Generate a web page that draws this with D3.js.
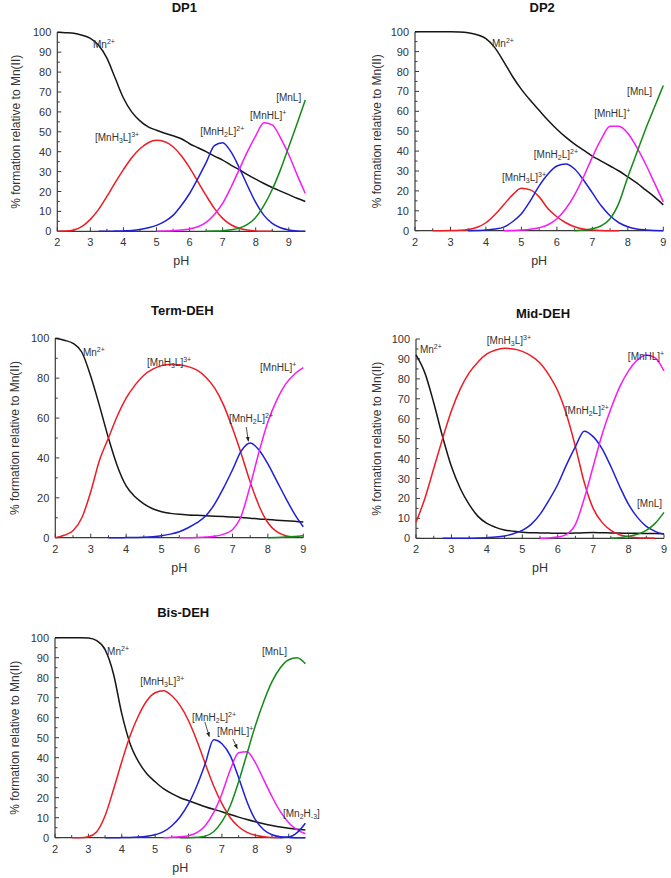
<!DOCTYPE html>
<html><head><meta charset="utf-8">
<script src="https://cdn.jsdelivr.net/npm/d3@7"></script>
<style>
body{margin:0;background:#fff;}
svg{display:block;}
text{font-family:"Liberation Sans",Arial,sans-serif;}
</style></head>
<body><svg id="c" width="671" height="878"></svg>
<script>
// ---------------- DATA ----------------
const grid95 = [2,2.25,2.5,2.75,3,3.25,3.5,3.75,4,4.25,4.5,4.75,5,5.25,5.5,5.75,6,6.25,6.5,6.75,7,7.25,7.5,7.75,8,8.25,8.5,8.75,9,9.25,9.5];
const grid9  = [2,2.25,2.5,2.75,3,3.25,3.5,3.75,4,4.25,4.5,4.75,5,5.25,5.5,5.75,6,6.25,6.5,6.75,7,7.25,7.5,7.75,8,8.25,8.5,8.75,9];
const _ = null;

// DP1 (pH 2 - 9.5)
const dp1_Mn   = [100,99.8,99.5,98.5,97,93.5,87,77,67,60,55.5,52.5,50.8,49.3,48,46.5,44,42,40,37.8,35.8,33.3,31,28.5,26.2,24,22,20.2,18.4,16.6,15];
const dp1_H3L  = [0,0.1,0.7,2.5,6,11,17.5,24.5,31,37,41.5,44.5,45.7,45,42.5,38,32,25,18,11.5,6.5,3.3,1.5,0.6,0.2,0.05,0,_,_,_,_];
const dp1_H2L  = [_,_,_,_,_,0,0,0.1,0.2,0.4,0.9,1.8,3,5,8,13,19,26.5,34.5,43,44.5,40,32,23,14.5,8,4,1.8,0.7,0.2,0];
const dp1_HL   = [_,_,_,_,_,_,_,_,_,_,_,_,0,0.1,0.3,0.6,1.2,2.3,4.5,8.5,14,22,31,40,48,54.5,53.5,47,38.5,28.5,19];
const dp1_L    = [_,_,_,_,_,_,_,_,_,_,_,_,_,_,_,_,_,_,0,0.1,0.3,0.8,1.6,3.5,7,13,21,31,42.5,54,66];

// DP2 (pH 2 - 9)
const dp2_Mn   = [100,100,100,100,100,99.9,99.5,98.5,96.5,92,85,77.5,71,65.5,60.5,55.5,51,47,43.5,40.5,37.5,35,32.5,30,27,24,20.5,17,13];
const dp2_H3L  = [_,_,0,0,0.05,0.2,0.6,1.7,4,8,13,18,21.3,20.5,17,11,7,4,2,0.9,0.4,0.1,0,0,_,_,_,_,_];
const dp2_H2L  = [_,_,_,_,_,_,0,0.1,0.3,0.8,1.8,4.5,8.5,15,22.5,28.5,32.5,33.5,31,25.5,19,12.5,7.5,4,2,0.9,0.4,0.1,0];
const dp2_HL   = [_,_,_,_,_,_,_,_,_,_,0,0.1,0.3,0.7,1.5,3,6,11,18,27,37,46,52.5,52.5,49,42,33.5,24,14.5];
const dp2_L    = [_,_,_,_,_,_,_,_,_,_,_,_,_,_,_,_,_,_,0,0.3,1,2.5,6,14,27,39,51,62,73];

// Term-DEH (pH 2 - 9)
const term_Mn  = [100,99,97.5,93,81,66,50,36,26,20.5,17,14.5,13,12.2,11.7,11.4,11.2,11,10.8,10.6,10.4,10.1,9.8,9.4,9.1,8.8,8.5,8.2,7.9];
const term_H3L = [0,1.2,3.5,10,23,39,50,61,70,76.5,81.5,84.5,86.3,86.9,86.7,85.8,84,80.5,75,66.5,55,42,28,16,7.5,3,1,0.3,_];
const term_H2L = [_,_,_,_,_,_,0,0,0.05,0.1,0.2,0.5,1,1.8,3,5,7.5,11,17,25,34,43.5,47.5,44,37,28.5,20,12,5.5];
const term_HL  = [_,_,_,_,_,_,_,_,_,_,_,_,_,_,0,0,0.1,0.3,0.7,1.8,4,11,26,43,58,69,77,82,85.3];
const term_L   = [_,_,_,_,_,_,_,_,_,_,_,_,_,_,_,_,_,_,_,_,_,_,_,_,0,0.1,0.3,0.6,1];

// Mid-DEH (pH 2 - 9)
const mid_Mn   = [92,83,68,51,36,25,17,11,7.5,5.5,4.2,3.5,3,2.8,2.7,2.6,2.5,2.5,2.6,2.8,2.9,2.8,2.7,2.6,2.5,2.5,2.4,2.4,2.3];
const mid_H3L  = [8,20,35,50,64,75,83,88.5,92.5,94.5,95.3,95,93.8,91.5,88,82,74,62,46,28,15,8,4,1.8,0.8,0.3,0.1,0,_];
const mid_H2L  = [_,_,_,0,0,0,0.05,0.1,0.3,0.6,1.2,2.3,4,7,12,19,27,37,46,53.7,51,45,36,26,17,10.5,6,3.5,2];
const mid_HL   = [_,_,_,_,_,_,_,_,_,_,_,_,_,_,0,0.2,0.6,2,7,20,36,52,65,76,84,89.5,92,90.5,84];
const mid_L    = [_,_,_,_,_,_,_,_,_,_,_,_,_,_,_,_,_,_,_,_,_,_,0,0.3,1,2,4,7.5,13];

// Bis-DEH (pH 2 - 9.5)
const bis_Mn   = [100,100,100,100,99.8,98.5,94,82,62,47,38,32,28,24.5,22,20,18.5,17,15.5,14.2,13,11.6,10.3,9.1,8,7,6.1,5.3,4.7,4.2,3.8];
const bis_H3L  = [_,_,0,0,0.5,3,11,24,38,51,61,68.5,72.5,73.5,71,66,58.5,48.5,37,26,17,10,5.5,2.7,1.2,0.5,0.1,0,_,_,_];
const bis_H2L  = [_,_,_,_,_,_,0,0,0.05,0.1,0.3,0.7,1.5,3,6,10.5,17,26,37,49,47,41,30,18,9,4,1.5,0.5,0.2,0,0];
const bis_HL   = [_,_,_,_,_,_,_,_,_,_,_,_,_,0,0.2,0.5,1,2.5,6,12.5,22,34,42.5,43,37.5,29,20.5,13,7.5,4,2];
const bis_L    = [_,_,_,_,_,_,_,_,_,_,_,_,_,_,_,0,0,0.2,0.8,3,8,16,28,42,56,68,78,85,89,90,87];
const bis_Mn2  = [_,_,_,_,_,_,_,_,_,_,_,_,_,_,_,_,_,_,_,_,_,_,_,_,_,_,_,0,0.3,2.5,7.2];

const titles = ["DP1","DP2","Term-DEH","Mid-DEH","Bis-DEH"];
const xTicks = [2,3,4,5,6,7,8,9];

// ---------------- LAYOUT ----------------
const colors = {Mn:"#161616", H3L:"#ee1c24", H2L:"#1f1fd6", HL:"#f51cf5", L:"#138a18", Mn2:"#1f1fd6"};
const panels = [
  {title:titles[0], grid:grid95, xmax:9.5, xr:[57.3,305.3], yr:[231.3,32.3], ystep:10, tY:12, pHy:265, ylx:16,
   series:{Mn:dp1_Mn,H3L:dp1_H3L,H2L:dp1_H2L,HL:dp1_HL,L:dp1_L},
   labels:[["Mn",3.08,92],["H3L",3.14,45.4],["H2L",6.32,48.4],["HL",7.83,56.4],["L",8.62,65.4]], arrows:[]},
  {title:titles[1], grid:grid9, xmax:9, xr:[415,663.3], yr:[230.7,31.7], ystep:10, tY:12, pHy:265, ylx:377,
   series:{Mn:dp2_Mn,H3L:dp2_H3L,H2L:dp2_H2L,HL:dp2_HL,L:dp2_L},
   labels:[["Mn",4.17,92.3],["L",7.98,68.2],["HL",7.05,57.1],["H2L",5.35,36.5],["H3L",4.45,25]], arrows:[]},
  {title:titles[2], grid:grid9, xmax:9, xr:[55.3,303.3], yr:[537.7,338.3], ystep:20, tY:315, pHy:572, ylx:15,
   series:{Mn:term_Mn,H3L:term_H3L,H2L:term_H2L,HL:term_HL,L:term_L},
   labels:[["Mn",2.78,91],["H3L",4.59,86.1],["HL",7.78,83.6],["H2L",6.9,58]], arrows:[[7.39,55.5,7.45,48.4]]},
  {title:titles[3], grid:grid9, xmax:9, xr:[416,664], yr:[538.3,339], ystep:10, tY:318, pHy:572, ylx:377,
   series:{Mn:mid_Mn,H3L:mid_H3L,H2L:mid_H2L,HL:mid_HL,L:mid_L},
   labels:[["Mn",2.11,93],["H3L",4.0,97.5],["HL",7.98,89.6],["H2L",6.2,62.4],["L",8.24,15.7]], arrows:[]},
  {title:titles[4], grid:grid95, xmax:9.5, xr:[55,305.4], yr:[837.7,637.7], ystep:10, tY:617, pHy:872, ylx:15,
   series:{Mn:bis_Mn,H3L:bis_H3L,H2L:bis_H2L,HL:bis_HL,L:bis_L,Mn2:bis_Mn2},
   labels:[["Mn",3.56,91.3],["H3L",4.55,76.3],["L",8.2,91.3],["H2L",6.1,58.3],["HL",6.85,51.3],["Mn2",8.83,10.3]],
   arrows:[[6.49,57.8,6.62,50.6],[7.33,49.3,7.46,44.6]]}
];

const svg = d3.select("#c");
const defs = svg.append("defs");
defs.append("marker").attr("id","ah").attr("viewBox","0 0 10 10").attr("refX",9).attr("refY",5)
  .attr("markerWidth",6).attr("markerHeight",6).attr("orient","auto")
  .append("path").attr("d","M0,1 L10,5 L0,9 z").attr("fill","#222");

function addLabel(g, kind, x, y){
  const t = g.append("text").attr("x",x).attr("y",y).attr("font-size",10).attr("fill","#333");
  const sub = (s)=>{ t.append("tspan").attr("font-size",7).attr("dy",2).text(s); };
  const sup = (s,dy)=>{ t.append("tspan").attr("font-size",7).attr("dy",dy).text(s); };
  const norm = (s,dy)=>{ t.append("tspan").attr("dy",dy||0).text(s); };
  if(kind==="Mn"){ norm("Mn"); sup("2+",-4); }
  else if(kind==="H3L"){ norm("[MnH"); sub("3"); norm("L]",-2); sup("3+",-4); }
  else if(kind==="H2L"){ norm("[MnH"); sub("2"); norm("L]",-2); sup("2+",-4); }
  else if(kind==="HL"){ norm("[MnHL]"); sup("+",-4); }
  else if(kind==="L"){ norm("[MnL]"); }
  else if(kind==="Mn2"){ norm("[Mn"); sub("2"); norm("H",-2); sub("-3"); norm("]",-2); }
}

panels.forEach(p=>{
  const g = svg.append("g");
  const x = d3.scaleLinear().domain([2,p.xmax]).range(p.xr);
  const y = d3.scaleLinear().domain([0,100]).range(p.yr);
  const ax = "#3a3a3a";
  g.append("line").attr("x1",p.xr[0]).attr("x2",p.xr[1]).attr("y1",p.yr[0]).attr("y2",p.yr[0]).attr("stroke",ax).attr("stroke-width",1.2);
  g.append("line").attr("x1",p.xr[0]).attr("x2",p.xr[0]).attr("y1",p.yr[0]).attr("y2",p.yr[1]).attr("stroke",ax).attr("stroke-width",1.2);
  const yT = d3.range(0,100.01,p.ystep);
  const yM = d3.range(p.ystep/2,100,p.ystep);
  yT.forEach(v=>{
    g.append("line").attr("x1",p.xr[0]).attr("x2",p.xr[0]+4).attr("y1",y(v)).attr("y2",y(v)).attr("stroke",ax);
    g.append("text").attr("x",p.xr[0]-6).attr("y",y(v)+4).attr("text-anchor","end").attr("font-size",11).attr("fill","#333").text(v);
  });
  yM.forEach(v=>{
    g.append("line").attr("x1",p.xr[0]).attr("x2",p.xr[0]+2.5).attr("y1",y(v)).attr("y2",y(v)).attr("stroke",ax);
  });
  xTicks.forEach(v=>{
    g.append("line").attr("x1",x(v)).attr("x2",x(v)).attr("y1",p.yr[0]).attr("y2",p.yr[0]-4).attr("stroke",ax);
    g.append("text").attr("x",x(v)).attr("y",p.yr[0]+15).attr("text-anchor","middle").attr("font-size",11).attr("fill","#333").text(v);
  });
  d3.range(2.5,p.xmax,1).forEach(v=>{
    g.append("line").attr("x1",x(v)).attr("x2",x(v)).attr("y1",p.yr[0]).attr("y2",p.yr[0]-2.5).attr("stroke",ax);
  });
  const cx = (p.xr[0]+p.xr[1])/2;
  g.append("text").attr("x",cx+3).attr("y",p.tY).attr("text-anchor","middle").attr("font-size",13)
    .attr("font-weight","bold").attr("font-family","Lato, 'Open Sans', sans-serif").attr("fill","#111").text(p.title);
  g.append("text").attr("x",cx).attr("y",p.pHy).attr("text-anchor","middle").attr("font-size",12.5).attr("fill","#333").text("pH");
  const cy = (p.yr[0]+p.yr[1])/2;
  g.append("text").attr("transform",`translate(${p.ylx+4},${cy}) rotate(-90)`).attr("text-anchor","middle")
    .attr("font-size",12).attr("fill","#333").text("% formation relative to Mn(II)");
  const line = d3.line().defined(d=>d[1]!=null).x(d=>x(d[0])).y(d=>y(d[1])).curve(d3.curveMonotoneX);
  Object.keys(p.series).forEach(k=>{
    const vals = p.series[k];
    const pts = p.grid.map((ph,i)=>[ph, vals[i]]);
    g.append("path").attr("d",line(pts)).attr("fill","none").attr("stroke",colors[k]).attr("stroke-width",1.5);
  });
  p.labels.forEach(l=>addLabel(g,l[0],x(l[1]),y(l[2])));
  p.arrows.forEach(a=>{
    g.append("line").attr("x1",x(a[0])).attr("y1",y(a[1])).attr("x2",x(a[2])).attr("y2",y(a[3]))
      .attr("stroke","#222").attr("stroke-width",0.8).attr("marker-end","url(#ah)");
  });
});
</script></body></html>
